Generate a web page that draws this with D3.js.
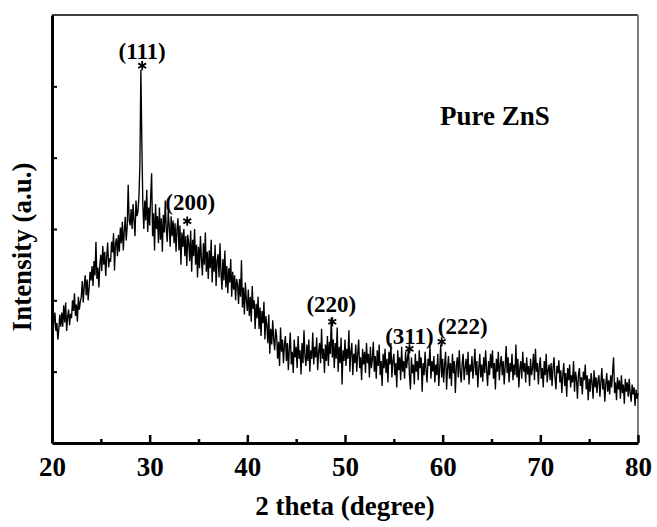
<!DOCTYPE html>
<html>
<head>
<meta charset="utf-8">
<script src="https://cdn.jsdelivr.net/npm/d3@7/dist/d3.min.js"></script>
<style>
  html, body { margin: 0; padding: 0; background: #fff; }
  svg { display: block; }
  text { font-family: "Liberation Serif", "Times New Roman", serif; font-weight: bold; fill: #000; }
</style>
</head>
<body>
<svg id="chart" width="657" height="527"></svg>
<script>
// ---- data ----
const thetaStart = 20;   // 2θ of first sample (degree)
const thetaStep = 0.1;   // sampling step (degree)
const intensity = [
175,150,170,183,157,168,145,160,180,163,
183,163,193,169,197,157,177,187,165,181,
175,200,185,210,178,194,170,205,187,198,
205,227,197,220,235,207,229,200,218,240,
228,248,220,255,235,282,230,246,218,250,
264,241,276,250,268,234,261,281,246,259,
254,282,267,294,242,280,287,262,292,268,
302,280,310,270,297,317,284,304,362,312,
305,328,300,335,312,290,340,318,325,345,
390,523,420,335,300,340,312,355,296,330,
305,345,378,290,322,270,335,300,318,280,
330,285,315,268,320,295,340,300,282,325,
305,275,318,290,312,280,308,268,300,315,
270,305,250,295,275,300,262,290,248,292,
280,255,298,240,285,262,300,250,278,232,
275,245,290,258,235,280,250,295,240,268,
230,270,245,285,225,262,240,278,220,255,
265,232,280,240,215,258,228,270,218,248,
210,245,225,258,205,240,215,235,200,230,
222,195,230,205,256,190,218,180,225,200,
185,215,178,205,170,220,188,200,160,195,
175,205,160,190,150,185,168,198,145,178,
165,140,180,125,160,138,172,145,130,160,
150,118,142,108,162,128,145,112,138,150,
115,140,102,132,155,110,128,98,145,120,
135,105,150,118,130,96,140,112,158,122,
108,138,115,145,100,130,118,155,110,135,
120,148,102,128,140,112,160,118,132,98,
138,115,150,108,142,125,176,120,145,105,
140,118,162,100,135,112,148,82,130,115,
145,108,132,118,158,100,128,140,95,125,
112,138,100,125,145,105,120,88,132,110,
128,98,140,112,125,92,135,105,118,142,
100,122,90,130,108,138,95,115,80,125,
105,132,98,118,85,128,110,140,92,115,
125,95,112,78,130,102,120,88,135,100,
115,90,128,105,118,132,95,75,120,98,
110,82,125,100,115,88,130,105,120,72,
112,95,128,102,85,118,108,136,90,115,
100,122,85,110,95,125,80,105,138,92,
118,85,110,128,75,105,122,90,112,80,
125,98,115,70,108,120,92,130,100,85,
112,125,88,105,118,95,128,82,110,100,
122,90,108,132,95,115,78,105,125,92,
110,86,120,98,130,102,80,115,95,125,
105,130,90,112,75,118,100,128,88,110,
122,95,115,82,108,136,98,120,85,112,
100,125,88,110,95,138,92,118,78,105,
115,90,128,100,112,85,120,96,108,80,
118,95,105,125,88,132,100,112,82,108,
120,90,105,78,115,95,125,85,102,110,
88,112,80,105,120,92,75,108,98,116,
85,102,70,95,112,80,98,65,105,88,
110,78,95,85,115,72,100,90,62,96,
105,80,92,68,100,88,110,75,95,60,
90,72,98,85,62,102,78,92,70,88,
95,65,85,105,75,90,58,82,98,72,
88,68,95,78,100,120,70,85,60,92,
75,88,62,95,70,82,55,90,72,85,
65,90,70,58,82,68,78,52,75,62,
70
];
const xMajorTicks = [20, 30, 40, 50, 60, 70, 80];
const xMinorTicks = [25, 35, 45, 55, 65, 75];
const yTicks = [100, 200, 300, 400, 500];
const peakLabels = ["(111)", "(200)", "(220)", "(311)", "(222)"];
const peakTheta = [29.23, 33.85, 48.7, 56.6, 59.9];
const peakStarLevel = [529, 311, 170, 132, 142];
const sampleLabel = "Pure ZnS";
const xTitle = "2 theta (degree)";
const yTitle = "Intensity (a.u.)";

// ---- layout ----
const L = 52, R = 638, T = 15, B = 443;
const labelOffset = [[0, -7], [3, -11], [-1, -10], [0, -5], [21, -8]];

const svg = d3.select("#chart");
const x = d3.scaleLinear().domain([20, 80]).range([L, R]);
const y = d3.scaleLinear().domain([0, 600]).range([B, T]);

const data = intensity.map((v, i) => ({ t: thetaStart + i * thetaStep, v }));

// frame: top and right
svg.append("line").attr("x1", L).attr("x2", R).attr("y1", T).attr("y2", T)
  .attr("stroke", "#000").attr("stroke-width", 1.5);
svg.append("line").attr("x1", R).attr("x2", R).attr("y1", T).attr("y2", B)
  .attr("stroke", "#7a7a7a").attr("stroke-width", 2);

// the pattern
svg.append("path").datum(data)
  .attr("fill", "none").attr("stroke", "#000").attr("stroke-width", 1.35)
  .attr("stroke-linejoin", "miter")
  .attr("d", d3.line().x(d => x(d.t)).y(d => y(d.v)));

// x axis
const gx = svg.append("g").attr("transform", `translate(0,${B})`)
  .call(d3.axisBottom(x).tickValues(xMajorTicks).tickFormat(d3.format("d"))
    .tickSizeInner(-8).tickSizeOuter(0).tickPadding(14));
gx.select(".domain").attr("stroke-width", 3).attr("stroke", "#000");
gx.selectAll(".tick line").attr("stroke-width", 2.5).attr("stroke", "#000");
gx.selectAll(".tick text").attr("font-size", 27).attr("font-family", "Liberation Serif").attr("font-weight", "bold").attr("fill", "#000");

const gxm = svg.append("g").attr("transform", `translate(0,${B})`)
  .call(d3.axisBottom(x).tickValues(xMinorTicks).tickFormat("")
    .tickSizeInner(-4).tickSizeOuter(0));
gxm.select(".domain").remove();
gxm.selectAll(".tick line").attr("stroke-width", 2.5).attr("stroke", "#000");

// y axis
const gy = svg.append("g").attr("transform", `translate(${L},0)`)
  .call(d3.axisLeft(y).tickValues(yTicks).tickFormat("")
    .tickSizeInner(-5).tickSizeOuter(0));
gy.select(".domain").attr("stroke-width", 3).attr("stroke", "#000");
gy.selectAll(".tick line").attr("stroke-width", 2).attr("stroke", "#000");

// titles
svg.append("text").attr("x", (L + R) / 2).attr("y", 515)
  .attr("text-anchor", "middle").attr("font-size", 27).text(xTitle);
svg.append("text").attr("transform", `translate(31,${(162 + 332) / 2}) rotate(-90)`)
  .attr("text-anchor", "middle").attr("font-size", 27).text(yTitle);
svg.append("text").attr("x", 440).attr("y", 125)
  .attr("font-size", 27).text(sampleLabel);

// peak annotations: asterisk markers + Miller index labels
const starShape = d3.symbol().type(d3.symbolAsterisk || d3.symbolCross).size(58);
peakLabels.forEach((lab, i) => {
  const sx = x(peakTheta[i]);
  const sy = y(peakStarLevel[i]);
  svg.append("path").attr("d", starShape())
    .attr("transform", `translate(${sx},${sy})`)
    .attr("fill", "none").attr("stroke", "#000").attr("stroke-width", 1.8);
  svg.append("text").attr("x", sx + labelOffset[i][0]).attr("y", sy + labelOffset[i][1])
    .attr("text-anchor", "middle").attr("font-size", 23).text(lab);
});
</script>
</body>
</html>
